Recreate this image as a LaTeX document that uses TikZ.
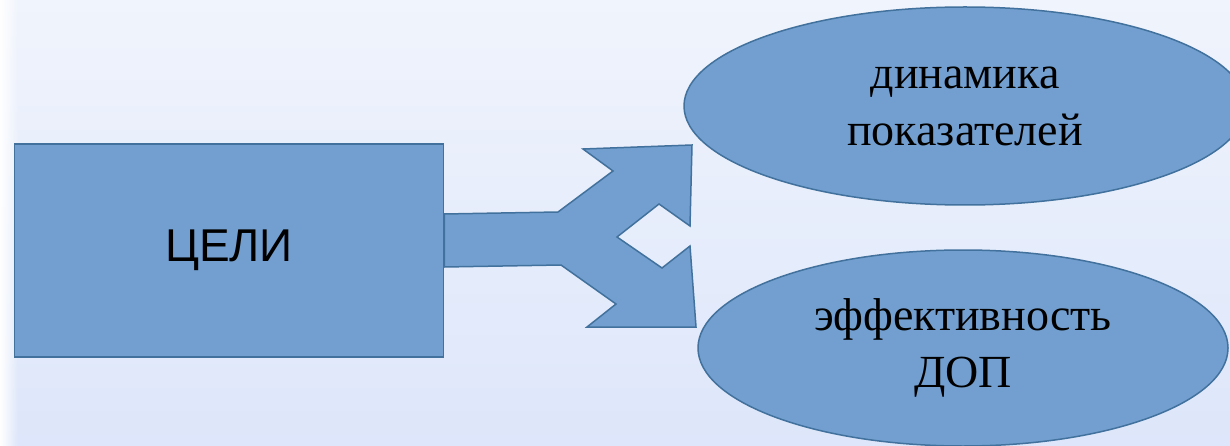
\documentclass[tikz,border=0pt]{standalone}
\usepackage{fontspec}
\setmainfont{Liberation Serif}
\newfontfamily\goalfont{Liberation Sans}
\usepackage{xcolor}
\usetikzlibrary{shapes.geometric,fadings}
\definecolor{shapefill}{RGB}{114,159,207}
\definecolor{shapeline}{RGB}{65,113,156}
\definecolor{bgtop}{RGB}{240,244,252}
\definecolor{bgbottom}{RGB}{221,230,250}
\newcommand{\twolines}[2]{\raisebox{-5pt}{\begin{tabular}{@{}c@{}}#1\\#2\end{tabular}}}

\begin{document}
\begin{tikzpicture}[
    x=1pt, y=-1pt,
    goalbox/.style={
      rectangle, draw=shapeline, fill=shapefill, line width=1.5pt,
      minimum width=429pt, minimum height=213pt, inner sep=0pt,
      font=\goalfont\fontsize{46}{55}\selectfont
    },
    result/.style={
      ellipse, draw=shapeline, fill=shapefill, line width=1.5pt,
      inner sep=0pt, align=center,
      font=\fontsize{46}{57}\selectfont
    },
    fork/.style={draw=shapeline, fill=shapefill, line width=1.5pt, line join=miter}
  ]
  \useasboundingbox (0,0) rectangle (1230,446);
  \clip (0,0) rectangle (1230,446);
  % background
  \shade[top color=bgtop, bottom color=bgbottom] (0,0) rectangle (1230,446);
  \fill[white, path fading=east] (0,0) rectangle (18,446);

  \node[goalbox] (goal) at (229,250.5) {\raisebox{-2pt}{ЦЕЛИ}};
  \node[result, minimum width=562pt, minimum height=198pt] (dyn) at (965,106)
    {\twolines{динамика}{показателей}};
  \node[result, minimum width=530pt, minimum height=196pt] (eff) at (963,348)
    {\twolines{эффективность}{ДОП}};

  % forked arrow from the goal box to both ellipses
  \draw[fork] (goal.east |- 0,214) -- (558,212) -- (613,171) -- (583,149)
    -- (692,145) -- (690,226) -- (659,204) -- (617,237) -- (662,268)
    -- (690,246) -- (696,327) -- (587,327) -- (616,304) -- (561,265)
    -- (goal.east |- 0,267) -- cycle;
\end{tikzpicture}
\end{document}
